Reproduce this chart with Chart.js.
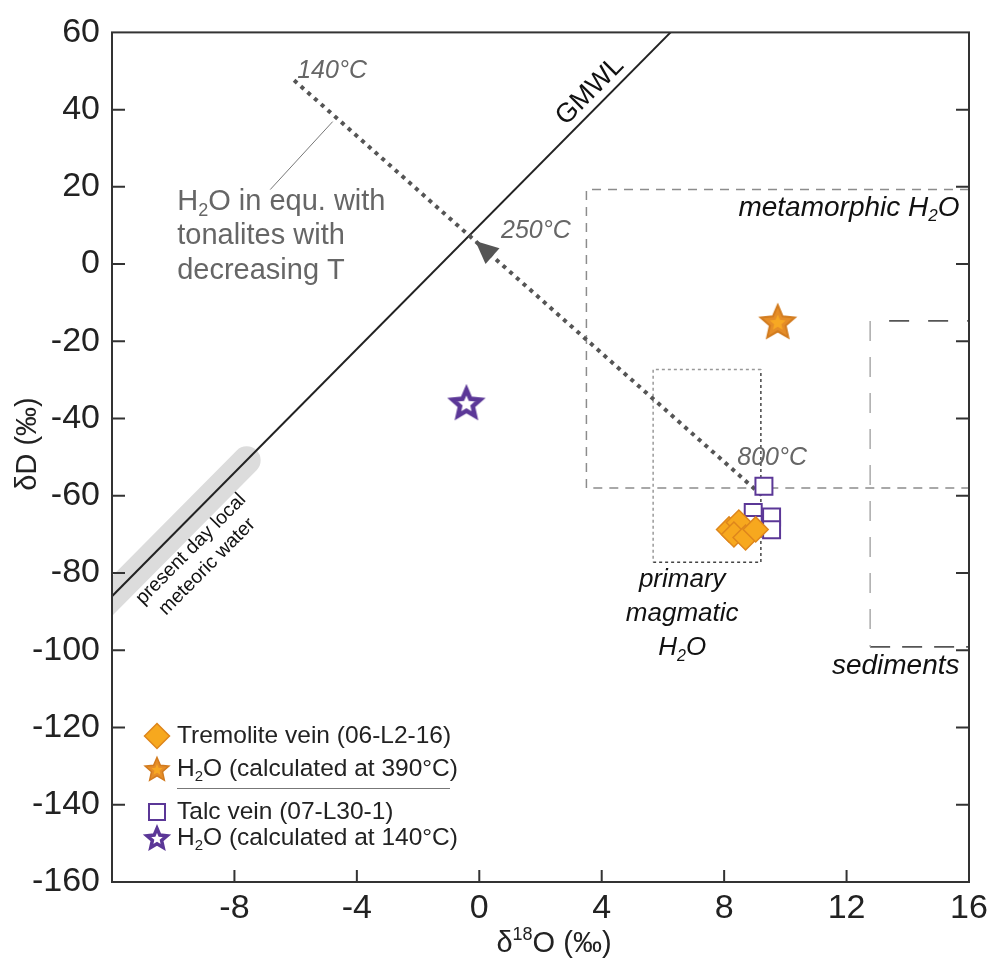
<!DOCTYPE html>
<html>
<head>
<meta charset="utf-8">
<script src="https://cdn.jsdelivr.net/npm/chart.js@4.4.0/dist/chart.umd.min.js"></script>
<style>
  html, body { margin: 0; background: #fff; }
</style>
</head>
<body>
<canvas id="chart" width="994" height="959"></canvas>
<script>
// axis ticks
const xTicks = [-8, -4, 0, 4, 8, 12, 16];
const yTicks = [60, 40, 20, 0, -20, -40, -60, -80, -100, -120, -140, -160];

// samples (δ18O, δD)
const tremoliteVein = [
  { x: 8.16, y: -68.7 }, { x: 8.48, y: -66.9 }, { x: 8.32, y: -70.0 },
  { x: 8.70, y: -70.8 }, { x: 9.03, y: -68.7 }
];
const tremoliteWater = [{ x: 9.75, y: -15.0 }];
const talcVein = [
  { x: 9.30, y: -57.5 }, { x: 8.95, y: -64.3 }, { x: 8.95, y: -67.4 },
  { x: 9.55, y: -65.5 }, { x: 9.55, y: -68.8 }
];
const talcWater = [{ x: -0.42, y: -36.0 }];

// reference lines and fields
const gmwl = [{ x: -12, y: -86 }, { x: 6.25, y: 60 }];
const meteoricBand = [{ x: -12.6, y: -90.8 }, { x: -7.6, y: -50.8 }];
const tonaliteWater = [{ x: -6.05, y: 47.6 }, { x: 9.25, y: -60 }];
const arrowTip = { x: -0.13, y: 6.0 };
const leader = [{ x: -4.79, y: 36.9 }, { x: -6.83, y: 19.3 }];
const metamorphicBox = [{ x: 16, y: 19.3 }, { x: 3.5, y: 19.3 }, { x: 3.5, y: -58 }, { x: 16, y: -58 }];
const magmaticTopLeft = [{ x: 9.2, y: -27.3 }, { x: 5.68, y: -27.3 }, { x: 5.68, y: -77.2 }];
const magmaticBottomRight = [{ x: 5.68, y: -77.2 }, { x: 9.2, y: -77.2 }, { x: 9.2, y: -27.3 }];
const sedimentsTop = [{ x: 12.77, y: -14.7 }, { x: 16, y: -14.7 }];
const sedimentsLeft = [{ x: 12.77, y: -14.7 }, { x: 12.77, y: -99.1 }];
const sedimentsBottom = [{ x: 12.77, y: -99.1 }, { x: 16, y: -99.1 }];

const FONT = '"Liberation Sans", Arial, Helvetica, sans-serif';
const ORANGE = '#f7a81e';
const ORANGE_DARK = '#de861c';
const PURPLE = '#5b3797';

function starCanvas(r, fill, stroke, lw, inner) {
  const pad = 3;
  const c = document.createElement('canvas');
  c.width = c.height = Math.ceil(2 * r + 2 * pad);
  const g = c.getContext('2d');
  const cx = c.width / 2, cy = c.height / 2 + 1;
  const path = (R) => {
    g.beginPath();
    for (let i = 0; i < 10; i++) {
      const rr = i % 2 ? R * 0.46 : R;
      const a = -Math.PI / 2 + i * Math.PI / 5;
      g.lineTo(cx + rr * Math.cos(a), cy + rr * Math.sin(a));
    }
    g.closePath();
  };
  path(r - lw);
  g.fillStyle = fill;
  g.fill();
  g.lineJoin = 'miter';
  g.miterLimit = 3;
  g.lineWidth = lw;
  g.strokeStyle = stroke;
  g.stroke();
  if (inner) {
    path(r * 0.42);
    g.fillStyle = inner;
    g.fill();
  }
  return c;
}

const orangeStar = starCanvas(20, '#e58d28', '#d27b1e', 2, '#f7a823');
const purpleStar = starCanvas(19, '#fff', PURPLE, 4.5);
const orangeStarSmall = starCanvas(14, '#e58d28', '#d27b1e', 1.5, '#f7a823');
const purpleStarSmall = starCanvas(14, '#fff', PURPLE, 3.5);

// text with subscript / superscript parts: [[text, 'sub'|'sup'], ...]
function richText(ctx, parts, x, y, size, style, align) {
  const big = (style || '') + ' ' + size + 'px ' + FONT;
  const small = (style || '') + ' ' + Math.round(size * 0.62) + 'px ' + FONT;
  let w = 0;
  parts.forEach(p => { ctx.font = p[1] ? small : big; w += ctx.measureText(p[0]).width; });
  let cx = align === 'right' ? x - w : align === 'center' ? x - w / 2 : x;
  ctx.textAlign = 'left';
  ctx.textBaseline = 'middle';
  parts.forEach(p => {
    ctx.font = p[1] ? small : big;
    const dy = p[1] === 'sub' ? size * 0.32 : p[1] === 'sup' ? -size * 0.3 : 0;
    ctx.fillText(p[0], cx, y + dy);
    cx += ctx.measureText(p[0]).width;
  });
}

const decorPlugin = {
  id: 'decor',
  afterDatasetsDraw(chart) {
    const ctx = chart.ctx;
    const xs = chart.scales.x, ys = chart.scales.y;
    const P = (x, y) => [xs.getPixelForValue(x), ys.getPixelForValue(y)];
    ctx.save();

    // arrow head on the tonalite line
    const a = P(tonaliteWater[0].x, tonaliteWater[0].y);
    const b = P(tonaliteWater[1].x, tonaliteWater[1].y);
    const ang = Math.atan2(a[1] - b[1], a[0] - b[0]);
    const t = P(arrowTip.x, arrowTip.y);
    ctx.translate(t[0], t[1]);
    ctx.rotate(ang);
    ctx.beginPath();
    ctx.moveTo(0, 0);
    ctx.lineTo(-23, -10.5);
    ctx.lineTo(-23, 10.5);
    ctx.closePath();
    ctx.fillStyle = '#555';
    ctx.fill();
    ctx.setTransform(1, 0, 0, 1, 0, 0);

    // annotations
    ctx.fillStyle = '#666';
    let p = P(-5.95, 49.9);
    richText(ctx, [['140°C']], p[0], p[1], 25, 'italic', 'left');
    p = P(0.71, 8.6);
    richText(ctx, [['250°C']], p[0], p[1], 25, 'italic', 'left');
    p = P(8.43, -50.2);
    richText(ctx, [['800°C']], p[0], p[1], 25, 'italic', 'left');

    p = P(-9.87, 16.2);
    richText(ctx, [['H'], ['2', 'sub'], ['O in equ. with']], p[0], p[1], 29, '', 'left');
    p = P(-9.87, 7.2);
    richText(ctx, [['tonalites with']], p[0], p[1], 29, '', 'left');
    p = P(-9.87, -1.8);
    richText(ctx, [['decreasing T']], p[0], p[1], 29, '', 'left');

    ctx.fillStyle = '#111';
    p = P(15.69, 14.6);
    richText(ctx, [['metamorphic H'], ['2', 'sub'], ['O']], p[0], p[1], 28, 'italic', 'right');
    p = P(6.63, -81.8);
    richText(ctx, [['primary']], p[0], p[1], 26, 'italic', 'center');
    p = P(6.63, -90.6);
    richText(ctx, [['magmatic']], p[0], p[1], 26, 'italic', 'center');
    p = P(6.63, -99.4);
    richText(ctx, [['H'], ['2', 'sub'], ['O']], p[0], p[1], 26, 'italic', 'center');
    p = P(15.69, -104.2);
    richText(ctx, [['sediments']], p[0], p[1], 28, 'italic', 'right');

    // rotated labels along GMWL
    const g0 = P(gmwl[0].x, gmwl[0].y), g1 = P(gmwl[1].x, gmwl[1].y);
    const rot = Math.atan2(g1[1] - g0[1], g1[0] - g0[0]);
    p = P(3.62, 44.8);
    ctx.translate(p[0], p[1]);
    ctx.rotate(rot);
    richText(ctx, [['GMWL']], 0, 0, 27, '', 'center');
    ctx.setTransform(1, 0, 0, 1, 0, 0);

    p = P(-9.42, -73.8);
    ctx.translate(p[0], p[1]);
    ctx.rotate(rot);
    richText(ctx, [['present day local']], 0, 0, 19.5, '', 'center');
    ctx.setTransform(1, 0, 0, 1, 0, 0);
    p = P(-8.89, -78.4);
    ctx.translate(p[0], p[1]);
    ctx.rotate(rot);
    richText(ctx, [['meteoric water']], 0, 0, 19.5, '', 'center');
    ctx.setTransform(1, 0, 0, 1, 0, 0);

    ctx.restore();
  },
  afterDraw(chart) {
    const ctx = chart.ctx;
    const { left, right, top, bottom } = chart.chartArea;
    const xs = chart.scales.x, ys = chart.scales.y;
    ctx.save();

    // frame and inward ticks
    ctx.strokeStyle = '#333';
    ctx.lineWidth = 2;
    ctx.strokeRect(left, top, right - left, bottom - top);
    ctx.beginPath();
    yTicks.forEach(v => {
      const y = ys.getPixelForValue(v);
      if (y <= top + 1 || y >= bottom - 1) return;
      ctx.moveTo(left, y); ctx.lineTo(left + 13, y);
      ctx.moveTo(right, y); ctx.lineTo(right - 13, y);
    });
    xTicks.forEach(v => {
      const x = xs.getPixelForValue(v);
      if (x <= left + 1 || x >= right - 1) return;
      ctx.moveTo(x, bottom); ctx.lineTo(x, bottom - 12);
    });
    ctx.stroke();

    // axis titles
    ctx.fillStyle = '#222';
    richText(ctx, [['δ'], ['18', 'sup'], ['O (‰)']], 554, 944, 29, '', 'center');
    ctx.translate(28, 444);
    ctx.rotate(-Math.PI / 2);
    richText(ctx, [['δD (‰)']], 0, 0, 29, '', 'center');
    ctx.setTransform(1, 0, 0, 1, 0, 0);

    // legend
    const mx = left + 45, tx = left + 65;
    const rows = [bottom - 146, bottom - 113, bottom - 70, bottom - 44];
    ctx.beginPath();
    ctx.moveTo(mx - 12.5, rows[0]); ctx.lineTo(mx, rows[0] - 12.5);
    ctx.lineTo(mx + 12.5, rows[0]); ctx.lineTo(mx, rows[0] + 12.5); ctx.closePath();
    ctx.fillStyle = ORANGE; ctx.fill();
    ctx.strokeStyle = ORANGE_DARK; ctx.lineWidth = 1.5; ctx.stroke();
    ctx.drawImage(orangeStarSmall, mx - orangeStarSmall.width / 2, rows[1] - orangeStarSmall.height / 2);
    ctx.fillStyle = '#fff';
    ctx.strokeStyle = PURPLE; ctx.lineWidth = 2;
    ctx.fillRect(mx - 8, rows[2] - 8, 16, 16);
    ctx.strokeRect(mx - 8, rows[2] - 8, 16, 16);
    ctx.drawImage(purpleStarSmall, mx - purpleStarSmall.width / 2, rows[3] - purpleStarSmall.height / 2);

    ctx.fillStyle = '#222';
    richText(ctx, [['Tremolite vein (06-L2-16)']], tx, rows[0], 24.5, '', 'left');
    richText(ctx, [['H'], ['2', 'sub'], ['O (calculated at 390°C)']], tx, rows[1], 24.5, '', 'left');
    richText(ctx, [['Talc vein (07-L30-1)']], tx, rows[2], 24.5, '', 'left');
    richText(ctx, [['H'], ['2', 'sub'], ['O (calculated at 140°C)']], tx, rows[3], 24.5, '', 'left');
    ctx.strokeStyle = '#777';
    ctx.lineWidth = 1;
    ctx.beginPath();
    ctx.moveTo(tx, bottom - 93.5); ctx.lineTo(left + 338, bottom - 93.5);
    ctx.stroke();

    ctx.restore();
  }
};

const lineSet = (data, color, width, dash, order, extra) => Object.assign({
  data, showLine: true, borderColor: color, borderWidth: width, borderDash: dash || [],
  pointRadius: 0, fill: false, order
}, extra || {});

new Chart(document.getElementById('chart'), {
  type: 'scatter',
  data: {
    datasets: [
      { label: 'Tremolite vein (06-L2-16)', data: tremoliteVein, pointStyle: 'rectRot', pointRadius: 12.5,
        backgroundColor: ORANGE, borderColor: ORANGE_DARK, borderWidth: 1.5, order: 1 },
      { label: 'Talc vein (07-L30-1)', data: talcVein, pointStyle: 'rect', pointRadius: 12,
        backgroundColor: '#fff', borderColor: PURPLE, borderWidth: 2, order: 2 },
      { label: 'H2O (calculated at 390°C)', data: tremoliteWater, pointStyle: orangeStar, order: 0 },
      { label: 'H2O (calculated at 140°C)', data: talcWater, pointStyle: purpleStar, order: 0 },
      lineSet(tonaliteWater, '#555', 4, [4, 5], 5),
      lineSet(leader, '#777', 1, [], 6),
      lineSet(gmwl, '#222', 2, [], 7),
      lineSet(meteoricBand, '#dcdcdc', 28, [], 8, { borderCapStyle: 'round', clip: 0 }),
      lineSet(metamorphicBox, '#8c8c8c', 1.5, [9, 7], 9),
      lineSet(magmaticTopLeft, '#999', 1.5, [3, 3], 9),
      lineSet(magmaticBottomRight, '#444', 1.5, [3, 3], 9),
      lineSet(sedimentsTop, '#555', 1.8, [20, 19], 9, { borderDashOffset: 20 }),
      lineSet(sedimentsLeft, '#aaa', 1.5, [20, 16], 9),
      lineSet(sedimentsBottom, '#555', 1.8, [20, 12], 9)
    ]
  },
  options: {
    responsive: false,
    animation: false,
    layout: { padding: { top: 26, right: 25, left: 0, bottom: 0 } },
    plugins: { legend: { display: false }, tooltip: { enabled: false } },
    scales: {
      x: {
        type: 'linear', min: -12, max: 16,
        afterBuildTicks: s => { s.ticks = xTicks.map(v => ({ value: v })); },
        afterFit: s => { s.height = 77; },
        grid: { display: false, drawTicks: false },
        border: { display: false },
        ticks: { font: { size: 34, family: FONT }, color: '#222', padding: 6, maxRotation: 0 }
      },
      y: {
        type: 'linear', min: -160, max: 60,
        afterBuildTicks: s => { s.ticks = yTicks.map(v => ({ value: v })); },
        afterFit: s => { s.width = 112; },
        grid: { display: false, drawTicks: false },
        border: { display: false },
        ticks: { font: { size: 34, family: FONT }, color: '#222', padding: 12 }
      }
    }
  },
  plugins: [decorPlugin]
});
</script>
</body>
</html>
